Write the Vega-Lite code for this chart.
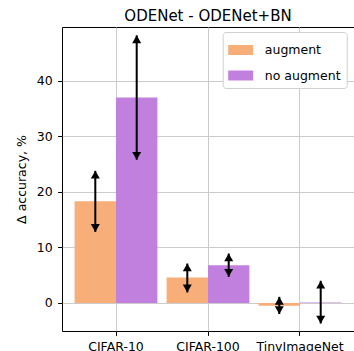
{
  "$schema": "https://vega.github.io/schema/vega-lite/v6.json",
  "width": 292,
  "height": 304,
  "autosize": {"type": "none"},
  "padding": {"left": 62, "top": 27, "right": 0, "bottom": 20},
  "config": {
    "font": "DejaVu Sans",
    "view": {"stroke": "black", "strokeWidth": 1},
    "axis": {
      "labelFont": "DejaVu Sans",
      "labelFontSize": 12.5,
      "labelColor": "black",
      "titleFont": "DejaVu Sans",
      "titleFontSize": 12.5,
      "titleFontWeight": "normal",
      "titleColor": "black",
      "tickColor": "black",
      "tickSize": 4.4,
      "tickWidth": 1,
      "labelPadding": 5.5,
      "domain": false,
      "gridColor": "#cbcbcb",
      "gridWidth": 1
    },
    "legend": {"labelFont": "DejaVu Sans", "labelFontSize": 12.5, "labelColor": "black"}
  },
  "title": {
    "text": "ODENet - ODENet+BN",
    "font": "DejaVu Sans",
    "fontSize": 15,
    "fontWeight": "normal",
    "color": "black",
    "anchor": "middle",
    "baseline": "bottom",
    "offset": 4,
    "dy": 16
  },
  "data": {
    "values": [
      {"dataset": "CIFAR-10", "group": "augment", "value": 18.3, "lo": 12.8, "hi": 23.8},
      {"dataset": "CIFAR-10", "group": "no augment", "value": 37.0, "lo": 25.8, "hi": 48.2},
      {"dataset": "CIFAR-100", "group": "augment", "value": 4.6, "lo": 1.9, "hi": 7.1},
      {"dataset": "CIFAR-100", "group": "no augment", "value": 6.8, "lo": 4.7, "hi": 8.9},
      {"dataset": "TinyImageNet", "group": "augment", "value": -0.5, "lo": -2.0, "hi": 1.1},
      {"dataset": "TinyImageNet", "group": "no augment", "value": 0.1, "lo": -3.7, "hi": 4.0}
    ]
  },
  "encoding": {
    "x": {
      "field": "dataset",
      "type": "nominal",
      "sort": ["CIFAR-10", "CIFAR-100", "TinyImageNet"],
      "scale": {"paddingInner": 0.1, "paddingOuter": 0.137},
      "axis": {"title": null, "labelAngle": 0, "grid": true, "bandPosition": 0.5}
    },
    "xOffset": {
      "field": "group",
      "type": "nominal",
      "sort": ["augment", "no augment"],
      "scale": {"paddingInner": 0, "paddingOuter": 0}
    }
  },
  "layer": [
    {
      "mark": {"type": "bar", "opacity": 1},
      "encoding": {
        "y": {
          "field": "value",
          "type": "quantitative",
          "stack": null,
          "scale": {"domain": [-5.05, 49.7], "nice": false, "zero": false},
          "axis": {"title": "Δ accuracy, %", "values": [0, 10, 20, 30, 40], "grid": true, "titlePadding": 8}
        },
        "color": {
          "field": "group",
          "type": "nominal",
          "scale": {"domain": ["augment", "no augment"], "range": ["#F8AE78", "#C280DE"]},
          "legend": {
            "title": null,
            "orient": "none",
            "legendX": 160.7,
            "legendY": 5,
            "symbolType": "M-1,-0.4H1V0.4H-1Z",
            "symbolSize": 625,
            "symbolStrokeWidth": 0,
            "labelOffset": 11.6,
            "padding": 5.5,
            "rowPadding": 6.5,
            "strokeColor": "#d0d0d0",
            "cornerRadius": 3,
            "fillColor": "white"
          }
        }
      }
    },
    {
      "mark": {"type": "rule", "strokeWidth": 2, "color": "black"},
      "encoding": {
        "y": {"field": "lo", "type": "quantitative"},
        "y2": {"field": "hi"}
      }
    },
    {
      "mark": {"type": "point", "shape": "triangle-up", "filled": true, "size": 81, "color": "black", "opacity": 1, "yOffset": 3.9},
      "encoding": {"y": {"field": "hi", "type": "quantitative"}}
    },
    {
      "mark": {"type": "point", "shape": "triangle-down", "filled": true, "size": 81, "color": "black", "opacity": 1, "yOffset": -3.9},
      "encoding": {"y": {"field": "lo", "type": "quantitative"}}
    }
  ]
}
